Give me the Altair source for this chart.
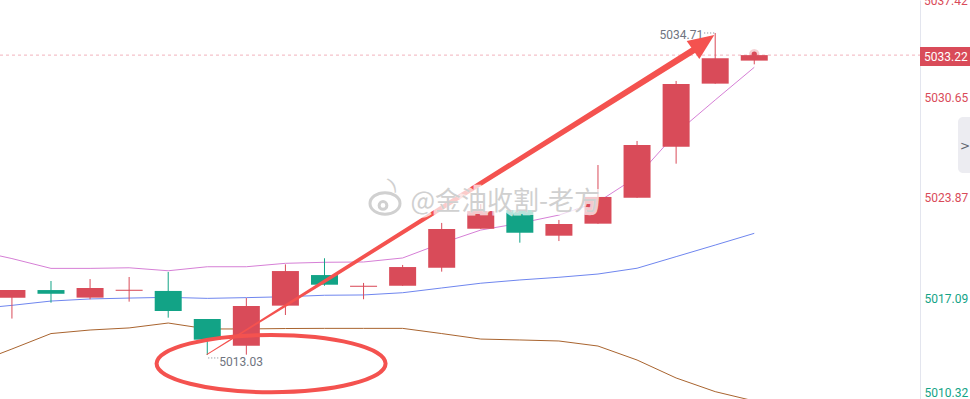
import altair as alt
import pandas as pd

# ---------------- data ----------------
candle_idx = list(range(20))
opens = [5016.89, 5017.40, 5016.89, 5017.35, 5017.34, 5015.45, 5013.65, 5016.35, 5018.41, 5017.62,
         5017.69, 5018.90, 5021.53, 5022.79, 5021.06, 5021.87, 5023.62, 5027.05, 5031.30, 5032.85]
highs = [5017.40, 5018.01, 5018.14, 5018.28, 5018.62, 5015.45, 5016.86, 5019.13, 5019.54, 5017.88,
         5019.09, 5021.92, 5023.19, 5022.80, 5022.12, 5025.82, 5027.44, 5031.48, 5034.71, 5033.24]
lows = [5015.48, 5016.55, 5016.78, 5016.62, 5015.54, 5013.03, 5013.05, 5015.72, 5017.69, 5016.78,
        5017.68, 5018.64, 5021.52, 5020.59, 5020.70, 5021.86, 5023.61, 5025.91, 5031.29, 5032.60]
closes = [5017.40, 5017.15, 5017.54, 5017.42, 5015.99, 5014.06, 5016.33, 5018.68, 5017.76, 5017.69,
          5018.95, 5021.51, 5022.72, 5021.26, 5021.85, 5023.67, 5027.17, 5031.28, 5033.01, 5033.22]

ma_idx = list(range(-1, 20))
ma_pink = [5020.10, 5019.52, 5018.86, 5018.86, 5018.90, 5018.70, 5018.97, 5018.97, 5019.20, 5019.27,
           5019.29, 5019.56, 5020.55, 5021.44, 5021.90, 5022.45, 5023.33, 5025.03, 5027.96, 5030.20, 5032.40]
ma_blue = [5016.12, 5016.37, 5016.66, 5016.80, 5016.86, 5016.91, 5016.84, 5016.89, 5016.95, 5017.05,
           5017.07, 5017.22, 5017.54, 5017.86, 5018.08, 5018.26, 5018.48, 5018.87, 5019.65, 5020.43, 5021.22]
ma_brown = [5012.42, 5013.43, 5014.47, 5014.71, 5014.85, 5015.18, 5014.78, 5014.78, 5014.81, 5014.82,
            5014.82, 5014.82, 5014.47, 5014.10, 5014.04, 5013.97, 5013.63, 5012.69, 5011.48, 5010.56, 5009.93]

axis_ticks = [5030.65, 5023.87, 5017.09, 5010.32]
axis_top_tick = 5037.42
last_price = 5033.22
high_label = "5034.71"
low_label = "5013.03"

# annotation geometry (in data units: candle index, price)
arrow_i = [4.995, 8.177, 17.468]
arrow_p = [5013.07, 5018.28, 5033.60]
arrow_w = [1.0, 3.5, 6.5]
head_pos = [17.705, 5034.07]
ellipse_pos = [6.633, 5012.45]
watermark_text = "@金油收割-老方"
watermark_pos = [10.20, 5023.33]
logo_pos = [9.60, 5023.50]

RED = "#d94b59"
GREEN = "#12a386"
ANNO = "#f4524f"

# ---------------- frames ----------------
cdf = pd.DataFrame({"i": candle_idx, "o": opens, "h": highs, "l": lows, "c": closes})
cdf["d"] = ["up" if c >= o else "down" for o, c in zip(opens, closes)]

X_SCALE = alt.Scale(domain=[-0.1772, 23.114], nice=False, zero=False)
Y_SCALE = alt.Scale(domain=[5010.064, 5036.932], nice=False, zero=False)

y_axis = alt.Axis(
    orient="right", values=axis_ticks, format=".2f", grid=False, ticks=False,
    domain=True, domainColor="#e3e5ee", title=None,
    labelColor={"condition": {"test": "datum.value > 5020", "value": RED}, "value": GREEN},
    labelFont="Roboto", labelFontSize=12, labelPadding=4, labelOffset=4, labelFlush=10,
    labelOverlap=False,
)


def X(field="i"):
    return alt.X(f"{field}:Q", scale=X_SCALE, axis=None)


def Y(field):
    return alt.Y(f"{field}:Q", scale=Y_SCALE, axis=y_axis)


color_dir = alt.Color("d:N", scale=alt.Scale(domain=["up", "down"], range=[RED, GREEN]), legend=None)

price_df = pd.DataFrame({"p": [last_price], "i": [candle_idx[-1]], "t": [f"{last_price:.2f}"]})

dash_line = alt.Chart(price_df).mark_rule(color="#f2b3bd", strokeDash=[3, 3], strokeWidth=1).encode(
    y=Y("p"), x=alt.value(0), x2=alt.value(920)
)


def ma_layer(values, color):
    df = pd.DataFrame({"i": ma_idx, "v": values})
    return alt.Chart(df).mark_line(strokeWidth=1, color=color).encode(x=X(), y=Y("v"), order="i:Q")


pink_line = ma_layer(ma_pink, "#d67fd6")
blue_line = ma_layer(ma_blue, "#6f86ef")
brown_line = ma_layer(ma_brown, "#a9642f")

wicks = alt.Chart(cdf).mark_rule(strokeWidth=1).encode(
    x=X(), y=Y("l"), y2="h:Q", color=color_dir
)
bodies = alt.Chart(cdf).mark_bar(size=27).encode(
    x=X(), y=Y("o"), y2="c:Q", color=color_dir
)

# top axis label (sits just above the visible domain, partly cut off)
top_df = pd.DataFrame({"p": [axis_top_tick], "t": [f"{axis_top_tick:.2f}"]})
top_label = alt.Chart(top_df).mark_text(align="left", baseline="middle", dy=8.5, fontSize=12,
                                        font="Roboto", color=RED).encode(
    x=alt.value(924), y=Y("p"), text="t:N"
)

# high / low annotations
hi_df = pd.DataFrame({"i": [candle_idx[highs.index(max(highs))]], "p": [max(highs)], "t": [high_label]})
lo_df = pd.DataFrame({"i": [candle_idx[lows.index(min(lows))]], "p": [min(lows)], "t": [low_label]})

hi_lead = alt.Chart(hi_df).mark_rule(color="#7c808b", strokeDash=[1, 2], xOffset=-11, x2Offset=-1).encode(
    x=X(), x2="i:Q", y=Y("p")
)
hi_text = alt.Chart(hi_df).mark_text(align="right", baseline="middle", dx=-12, dy=2, fontSize=12,
                                     font="Roboto", color="#6f7480").encode(x=X(), y=Y("p"), text="t:N")
lo_lead = alt.Chart(lo_df).mark_rule(color="#7c808b", strokeDash=[1, 2], xOffset=1, x2Offset=11,
                                     yOffset=3).encode(x=X(), x2="i:Q", y=Y("p"))
lo_text = alt.Chart(lo_df).mark_text(align="left", baseline="middle", dx=12, dy=7, fontSize=12,
                                     font="Roboto", color="#6f7480").encode(x=X(), y=Y("p"), text="t:N")

# arrow
arrow_df = pd.DataFrame({"i": arrow_i, "p": arrow_p, "w": arrow_w})
arrow = alt.Chart(arrow_df).mark_trail(color=ANNO).encode(
    x=X(), y=Y("p"), size=alt.Size("w:Q", scale=None, legend=None), order="i:Q"
)
head_df = pd.DataFrame({"i": [head_pos[0]], "p": [head_pos[1]]})
head = alt.Chart(head_df).mark_point(
    shape="M 1 0 L -1 -0.85 L -1 0.85 Z", filled=True, size=676, angle=325, color=ANNO, opacity=1
).encode(x=X(), y=Y("p"))

# ellipse
b = 0.25
k = 0.5523
ell_path = (f"M -1 0 C -1 {-k*b} {-k} {-b} 0 {-b} C {k} {-b} 1 {-k*b} 1 0 "
            f"C 1 {k*b} {k} {b} 0 {b} C {-k} {b} -1 {k*b} -1 0 Z")
ell_df = pd.DataFrame({"i": [ellipse_pos[0]], "p": [ellipse_pos[1]]})
ellipse = alt.Chart(ell_df).mark_point(
    shape=ell_path, filled=False, size=229 * 229, stroke=ANNO, strokeWidth=4, opacity=1
).encode(x=X(), y=Y("p"))

# watermark
wm_df = pd.DataFrame({"i": [watermark_pos[0]], "p": [watermark_pos[1]], "t": [watermark_text]})
wm_halo = alt.Chart(wm_df).mark_text(align="left", baseline="middle", fontSize=26, font="Noto Sans CJK SC",
                                     color="white", stroke="white", strokeWidth=6, strokeOpacity=0.8,
                                     opacity=0.9).encode(x=X(), y=Y("p"), text="t:N")
wm_text = alt.Chart(wm_df).mark_text(align="left", baseline="middle", fontSize=26, font="Noto Sans CJK SC",
                                     color="#d0d0d0").encode(x=X(), y=Y("p"), text="t:N")
logo_df = pd.DataFrame({"i": [logo_pos[0]], "p": [logo_pos[1]]})
ell2 = "M -1 0 C -1 -0.4 -0.55 -0.72 0 -0.72 C 0.55 -0.72 1 -0.4 1 0 C 1 0.4 0.55 0.72 0 0.72 C -0.55 0.72 -1 0.4 -1 0 Z"
logo_halo = alt.Chart(logo_df).mark_point(shape=ell2, filled=False, size=900, stroke="white",
                                          strokeWidth=7, opacity=0.9, yOffset=4, xOffset=-2).encode(x=X(), y=Y("p"))
logo_head = alt.Chart(logo_df).mark_point(shape=ell2, filled=False, size=900, stroke="#d0d0d0",
                                          strokeWidth=3, opacity=1, yOffset=4, xOffset=-2).encode(x=X(), y=Y("p"))
logo_eye = alt.Chart(logo_df).mark_point(shape="circle", filled=False, size=60, stroke="#d0d0d0",
                                         strokeWidth=3, opacity=1, yOffset=6, xOffset=-4).encode(x=X(), y=Y("p"))
logo_wave = alt.Chart(logo_df).mark_text(text=")", fontSize=18, font="DejaVu Sans", color="#d0d0d0",
                                         angle=330, dx=12, dy=-9).encode(x=X(), y=Y("p"))

# current price box
price_box = alt.Chart(price_df).mark_rect(color=RED, yOffset=-8, y2Offset=11).encode(
    x=alt.value(920), x2=alt.value(970), y=Y("p"), y2="p:Q"
)
price_txt = alt.Chart(price_df).mark_text(align="left", baseline="middle", dx=0, dy=2, fontSize=12,
                                          font="Roboto", color="white").encode(
    x=alt.value(924), y=Y("p"), text="t:N"
)
dot_halo = alt.Chart(price_df).mark_point(shape="circle", filled=True, size=110, color=RED, opacity=0.25,
                                          yOffset=-1).encode(x=X(), y=Y("p"))
dot = alt.Chart(price_df).mark_point(shape="circle", filled=True, size=28, color=RED, opacity=1,
                                     yOffset=-1).encode(x=X(), y=Y("p"))

# side tab
tab_df = pd.DataFrame({"p1": [5029.05], "p2": [5025.28], "pm": [5027.10], "t": [">"]})
tab = alt.Chart(tab_df).mark_rect(color="#ececf1", cornerRadius=5).encode(
    x=alt.value(958), x2=alt.value(978), y=Y("p1"), y2="p2:Q"
)
tab_txt = alt.Chart(tab_df).mark_text(fontSize=12, color="#62666f", font="DejaVu Sans").encode(
    x=alt.value(965), y=Y("pm"), text="t:N"
)

chart = alt.layer(
    dash_line, pink_line, blue_line, brown_line, wicks, bodies, top_label,
    hi_lead, hi_text, lo_lead, lo_text,
    arrow, head, ellipse, logo_halo, logo_head, logo_eye, logo_wave, wm_halo, wm_text,
    price_box, price_txt, dot_halo, dot, tab, tab_txt,
).properties(
    width=920, height=399,
    autosize=alt.AutoSizeParams(type="none"),
    padding={"left": 0, "top": 0, "right": 50, "bottom": 0},
    background="white",
).configure_view(stroke=None)

chart.save("out.html", embed_options={"renderer": "svg", "actions": False})
